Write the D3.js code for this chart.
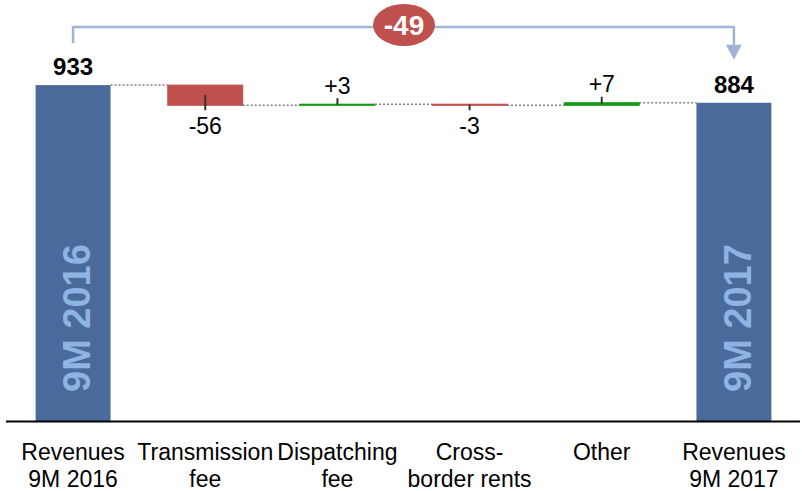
<!DOCTYPE html>
<html>
<head>
<meta charset="utf-8">
<script src="https://cdn.jsdelivr.net/npm/d3@7"></script>
<style>
  html, body { margin: 0; padding: 0; background: #fff; }
  svg { display: block; font-family: "Liberation Sans", Arial, sans-serif; }
</style>
</head>
<body>
<svg id="chart" width="802" height="491"></svg>
<script>
// Revenue bridge, 9M 2016 -> 9M 2017
const categories = [
  ["Revenues", "9M 2016"],
  ["Transmission", "fee"],
  ["Dispatching", "fee"],
  ["Cross-", "border rents"],
  ["Other", ""],
  ["Revenues", "9M 2017"]
];
const values = [933, -56, 3, -3, 7, 884];
const isTotal = [true, false, false, false, false, true];
const barTitles = ["9M 2016", "", "", "", "", "9M 2017"];

const colors = {
  total: "#4A6A9B",
  totalText: "#8DB4E2",
  up: "#109A10",
  down: "#C0504D",
  bracket: "#9FB4D6",
  connector: "#808080",
  tick: "#333333"
};

const svg = d3.select("#chart");

// build bar extents: totals start at zero, deltas float on the running sum
let running = 0;
const bars = values.map((v, i) => {
  let y0, y1;
  if (isTotal[i]) { y0 = 0; y1 = v; running = v; }
  else { y0 = running; y1 = running + v; running = y1; }
  return { i, v, y0, y1, end: running, total: isTotal[i] };
});

const x = d3.scaleBand()
  .domain(d3.range(categories.length))
  .range([7, 800])
  .paddingInner(0.433)
  .paddingOuter(0.2165);

const y = d3.scaleLinear().domain([0, 1000]).range([421, 61]);

const bw = x.bandwidth();
const cx = i => x(i) + bw / 2;

// connectors between consecutive bars
const conn = svg.append("g");
bars.slice(0, -1).forEach(b => {
  conn.append("line")
    .attr("x1", x(b.i) + bw).attr("x2", x(b.i + 1))
    .attr("y1", y(b.end)).attr("y2", y(b.end))
    .attr("stroke", colors.connector)
    .attr("stroke-width", 1.5)
    .attr("stroke-dasharray", "2,2");
});

// bars
svg.append("g").selectAll("rect")
  .data(bars)
  .join("rect")
  .attr("x", d => x(d.i))
  .attr("width", bw)
  .attr("y", d => y(Math.max(d.y0, d.y1)))
  .attr("height", d => Math.abs(y(d.y0) - y(d.y1)))
  .attr("fill", d => d.total ? colors.total : (d.v >= 0 ? colors.up : colors.down))
  .attr("stroke", d => d.total ? "none" : (d.v >= 0 ? colors.up : colors.down))
  .attr("stroke-width", 1);

// rotated period labels inside the total bars
bars.filter(d => d.total).forEach(d => {
  const tx = cx(d.i) + 17, ty = y(0) - 29;
  svg.append("text")
    .attr("transform", `translate(${tx},${ty}) rotate(-90)`)
    .attr("fill", colors.totalText)
    .attr("font-weight", "bold")
    .attr("font-size", 38)
    .text(barTitles[d.i]);
});

// small ticks pointing from each delta bar to its label
bars.filter(d => !d.total).forEach(d => {
  const mid = (y(d.y0) + y(d.y1)) / 2;
  const top = y(Math.max(d.y0, d.y1));
  const bot = y(Math.min(d.y0, d.y1));
  svg.append("line")
    .attr("x1", cx(d.i)).attr("x2", cx(d.i))
    .attr("y1", d.v >= 0 ? top - 6 : mid)
    .attr("y2", d.v >= 0 ? mid : bot + 5)
    .attr("stroke", colors.tick)
    .attr("stroke-width", 2);
});

// value labels
const fmt = v => (v > 0 ? "+" : "") + v;
bars.forEach(d => {
  const t = svg.append("text")
    .attr("x", cx(d.i))
    .attr("text-anchor", "middle")
    .attr("font-size", 23)
    .attr("fill", "#000");
  if (d.total) {
    t.attr("y", y(d.y1) - 10).attr("font-weight", "bold").attr("font-size", 24).text(d.v);
  } else if (d.v >= 0) {
    t.attr("y", y(d.y1) - 10.5).text(fmt(d.v));
  } else {
    t.attr("y", y(d.y1) + 29).text(fmt(d.v));
  }
});

// baseline
svg.append("line")
  .attr("x1", 6).attr("x2", 800)
  .attr("y1", y(0) + 0.5).attr("y2", y(0) + 0.5)
  .attr("stroke", "#000").attr("stroke-width", 2);

// category labels
svg.append("g").selectAll("text")
  .data(categories)
  .join("text")
  .attr("text-anchor", "middle")
  .attr("font-size", 23)
  .attr("fill", "#000")
  .each(function (lines, i) {
    const t = d3.select(this);
    lines.forEach((line, k) => {
      t.append("tspan").attr("x", cx(i)).attr("y", 460 + k * 27).text(line);
    });
  });

// overall change bracket from first to last total
const first = bars[0], last = bars[bars.length - 1];
const change = last.v - first.v;
const by = 27;
const ax = cx(last.i);
svg.append("path")
  .attr("d", `M${cx(first.i)},${y(first.y1) - 42} V${by} H${ax} V${y(last.y1) - 57}`)
  .attr("fill", "none")
  .attr("stroke", colors.bracket)
  .attr("stroke-width", 2.5);
const tipY = y(last.y1) - 43;
svg.append("path")
  .attr("d", `M${ax - 8},${tipY - 15} L${ax + 8},${tipY - 15} L${ax},${tipY} Z`)
  .attr("fill", colors.bracket);

const bubbleX = 404;
svg.append("ellipse")
  .attr("cx", bubbleX).attr("cy", 25)
  .attr("rx", 31).attr("ry", 21)
  .attr("fill", colors.down);
svg.append("text")
  .attr("x", bubbleX).attr("y", 35)
  .attr("text-anchor", "middle")
  .attr("font-size", 28)
  .attr("font-weight", "bold")
  .attr("fill", "#fff")
  .text(change);
</script>
</body>
</html>
